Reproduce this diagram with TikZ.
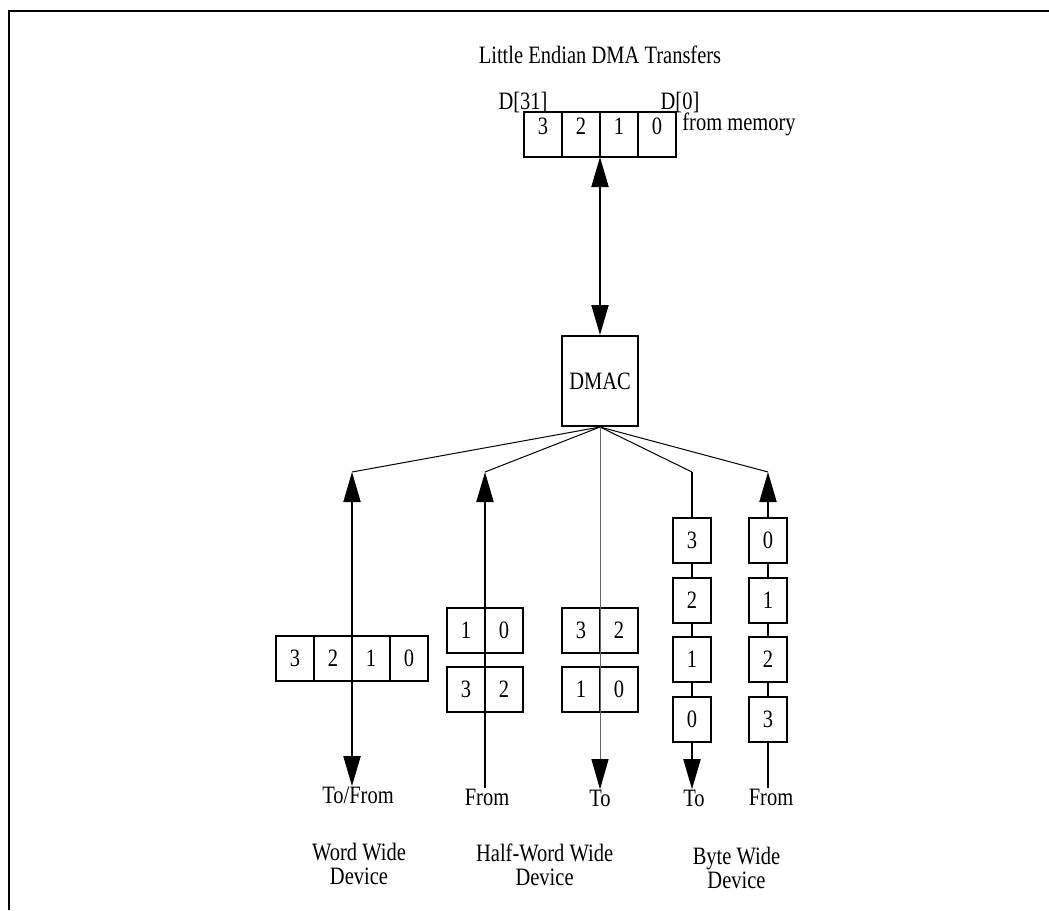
\documentclass[tikz,border=0pt]{standalone}
\usepackage{fontspec}
\setmainfont{Liberation Serif}[FakeStretch=0.82]
\usetikzlibrary{arrows.meta}
\newcommand{\memdigit}[1]{\raisebox{4pt}[\height][\depth]{#1}}

\begin{document}
\begin{tikzpicture}[x=0.5pt,y=-0.5pt,
  font=\fontsize{12.5}{12}\selectfont,
  >={Triangle[length=15pt,width=8.5pt,color=black]},
  cell/.style={draw,line width=1pt,minimum width=19pt,minimum height=22.5pt,inner sep=0pt,outer sep=0pt},
  lbl/.style={inner sep=0pt,anchor=base},
  dev/.style={inner sep=0pt,anchor=north,align=center},
  bus/.style={line width=1pt},
  branch/.style={line width=0.5pt}]
  \useasboundingbox (0,0) rectangle (1049,910);
  % frame
  \draw[line width=1pt] (9,910) -- (9,11) -- (1049,11);

  % memory word
  \node[lbl] (title) at (600,63) {Little Endian DMA Transfers};
  \node[lbl] (d31) at (523,109) {D[31]};
  \node[lbl] (d0) at (680,109) {D[0]};
  \foreach \d [count=\i from 0] in {3,2,1,0}
    \node[cell] (m\d) at (543+38*\i,134.5) {\memdigit{\d}};
  \node[lbl,anchor=base west] (mem) at (682,130) {from memory};

  \node[cell,minimum width=38pt,minimum height=45pt,outer sep=0.5pt] (dmac) at (600,381) {DMAC};
  \draw[bus,<->] (m2.south east) -- (dmac.north);

  % branch points
  \coordinate (c1) at (352,472);
  \coordinate (c2) at (485,472);
  \coordinate (c3) at (692,472);
  \coordinate (c4) at (768,472);
  \foreach \c in {c1,c2,c3,c4}
    \draw[branch] (dmac.south) -- (\c);

  % word wide device
  \foreach \d [count=\i from 0] in {3,2,1,0}
    \node[cell] (w\d) at (295+38*\i,658.5) {\d};
  \node[lbl] (wtofrom) at (358,803) {To/From};
  \draw[bus,<->] (c1) -- (c1 |- wtofrom.north);

  % half-word wide device
  \node[cell] (hf1) at (466,630) {1};
  \node[cell] (hf0) at (504,630) {0};
  \node[cell] (hf3) at (466,689.5) {3};
  \node[cell] (hf2) at (504,689.5) {2};
  \node[lbl] (hfrom) at (487,805) {From};
  \draw[bus,->] (c2 |- hfrom.north) -- (c2);

  \node[cell] (ht3) at (581,630) {3};
  \node[cell] (ht2) at (619,630) {2};
  \node[cell] (ht1) at (581,689.5) {1};
  \node[cell] (ht0) at (619,689.5) {0};
  \node[lbl] (hto) at (600,806) {To};
  \draw[branch,black!60,->] (dmac.south) -- (dmac.south |- hto.north);

  % byte wide device
  \foreach \d [count=\i from 0] in {3,2,1,0}
    \node[cell] (bt\d) at (692,540.5+59.5*\i) {\d};
  \node[lbl] (bto) at (694,806) {To};
  \draw[bus] (c3) -- (bt3.north);
  \draw[bus] (bt3) -- (bt2) (bt2) -- (bt1) (bt1) -- (bt0);
  \draw[bus,->] (bt0.south) -- (bt0.south |- bto.north);

  \foreach \d [count=\i from 0] in {0,1,2,3}
    \node[cell] (bf\d) at (768,540.5+59.5*\i) {\d};
  \node[lbl] (bfrom) at (771,805) {From};
  \draw[bus] (bf3.south |- bfrom.north) -- (bf3.south);
  \draw[bus] (bf3) -- (bf2) (bf2) -- (bf1) (bf1) -- (bf0);
  \draw[bus,->] (bf0.north) -- (c4);

  % device names
  \node[dev] (wdev) at (359,843) {Word Wide\\Device};
  \node[dev] (hdev) at (544.6,843) {Half-Word Wide\\Device};
  \node[dev] (bdev) at (736.5,847) {Byte Wide\\Device};
\end{tikzpicture}
\end{document}
